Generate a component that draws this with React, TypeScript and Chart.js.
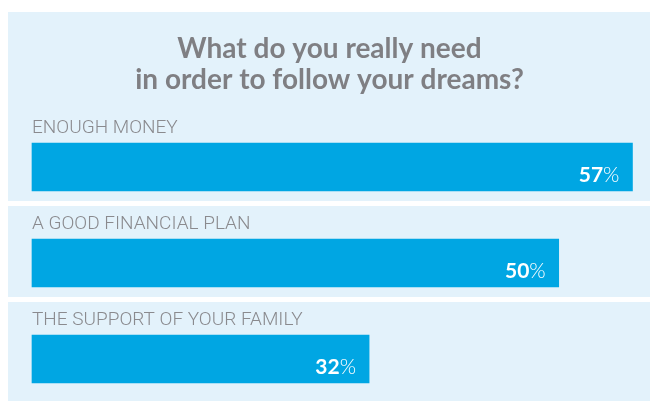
import React, { useEffect, useRef } from 'react';
import { Chart, registerables } from 'chart.js';

Chart.register(...registerables);

const categories = ['ENOUGH MONEY', 'A GOOD FINANCIAL PLAN', 'THE SUPPORT OF YOUR FAMILY'];
const values = [57, 50, 32];
const titleLines = ['What do you really need', 'in order to follow your dreams?'];
const valueSuffix = '%';
const axisMax = 58;

const PANEL = '#e3f2fb';
const BAR = '#00a6e3';
const TITLE_COLOR = '#7f7f83';
const LABEL_COLOR = '#8a8a8e';

const panelsPlugin = {
  id: 'panels',
  beforeDraw(chart: any) {
    const { ctx, width, height } = chart;
    const y = chart.scales.y;
    ctx.save();
    ctx.fillStyle = '#ffffff';
    ctx.fillRect(0, 0, width, height);
    ctx.fillStyle = PANEL;
    const n = categories.length;
    for (let i = 0; i < n; i++) {
      const c = y.getPixelForValue(i);
      const top = i === 0 ? 12 : c - 57;
      const bottom = i === n - 1 ? height : c + 34;
      ctx.fillRect(8, top, width - 8, bottom - top);
    }
    ctx.restore();
  },
};

const valueLabelsPlugin = {
  id: 'valueLabels',
  afterDatasetsDraw(chart: any) {
    const { ctx } = chart;
    const meta = chart.getDatasetMeta(0);
    const data = chart.data.datasets[0].data;
    ctx.save();
    ctx.fillStyle = '#ffffff';
    ctx.textAlign = 'right';
    ctx.textBaseline = 'alphabetic';
    meta.data.forEach((bar: any, i: number) => {
      const right = bar.x - 13;
      const base = bar.y + 15;
      ctx.font = '300 21px Lato';
      const pw = ctx.measureText(valueSuffix).width;
      ctx.fillText(valueSuffix, right, base);
      ctx.font = 'bold 21px Lato';
      ctx.fillText(String(data[i]), right - pw, base);
    });
    ctx.restore();
  },
};

export default function App() {
  const ref = useRef<HTMLCanvasElement>(null);
  useEffect(() => {
    if (!ref.current) return;
    const chart = new Chart(ref.current, {
      type: 'bar',
      data: {
        labels: categories,
        datasets: [
          {
            data: values,
            backgroundColor: BAR,
            borderWidth: 0,
            barThickness: 48,
            clip: false as any,
          },
        ],
      },
      options: {
        indexAxis: 'y',
        animation: false,
        responsive: false,
        events: [],
        layout: { padding: { left: 16, right: 7, top: 0, bottom: 42 } },
        plugins: {
          legend: { display: false },
          tooltip: { enabled: false },
          title: {
            display: true,
            text: titleLines,
            color: TITLE_COLOR,
            font: { family: 'Lato', weight: 'bold', size: 28, lineHeight: 31 / 28 },
            padding: { top: 33, bottom: 72 },
          },
        },
        scales: {
          x: { display: false, min: 0, max: axisMax },
          y: {
            offset: false,
            grid: { display: false, drawTicks: true, tickLength: 16 },
            border: { display: false },
            ticks: {
              mirror: true,
              padding: 0,
              labelOffset: -39,
              color: LABEL_COLOR,
              font: { family: 'Roboto', weight: 300, size: 19 },
            },
          },
        },
      },
      plugins: [panelsPlugin, valueLabelsPlugin],
    });
    return () => chart.destroy();
  }, []);
  return (
    <div style={{ position: 'fixed', left: 0, top: 0, width: 650, height: 401 }}>
      <canvas ref={ref} width={650} height={401} style={{ display: 'block' }} />
    </div>
  );
}
